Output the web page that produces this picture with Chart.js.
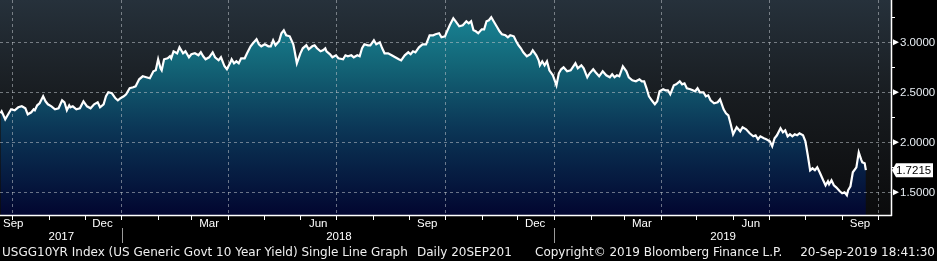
<!DOCTYPE html>
<html><head><meta charset="utf-8">
<script src="https://cdn.jsdelivr.net/npm/chart.js@4/dist/chart.umd.min.js"></script>
<style>html,body{margin:0;padding:0;background:#000;overflow:hidden}canvas{display:block}</style>
</head><body>
<canvas id="c" width="937" height="261"></canvas>
<script>
// ---- data (day offset from 2017-09-20, 10Y yield %) ----
const startISO = "2017-09-20";
const days = [0,1,4,7,9,12,15,18,21,23,26,28,29,31,33,36,38,40,43,46,49,52,54,56,58,59,61,64,67,70,73,76,79,82,84,87,89,91,94,97,99,101,104,106,109,112,114,117,120,123,126,129,131,133,135,136,138,141,143,144,146,149,151,154,156,159,161,164,167,169,171,173,176,179,181,184,186,189,191,194,195,197,199,201,203,206,208,211,213,216,218,220,223,226,228,230,232,235,237,239,241,244,247,248,250,253,255,258,260,263,265,267,270,272,274,275,278,280,283,285,289,291,293,296,298,301,303,305,307,310,312,315,317,320,322,324,327,330,333,336,338,341,344,346,348,350,353,356,359,362,365,367,370,372,375,376,379,382,384,387,390,393,395,397,399,401,403,406,408,410,412,414,416,419,421,423,426,428,430,433,435,437,439,441,444,447,449,452,454,455,457,459,461,463,466,469,471,473,475,478,481,485,487,490,492,495,497,500,502,505,508,511,514,516,518,520,522,525,528,530,533,536,539,541,543,545,547,550,552,554,556,559,561,563,565,568,570,573,575,577,579,582,584,586,588,590,593,595,597,599,602,605,607,610,612,614,616,618,621,624,626,629,632,635,637,639,641,644,646,649,651,653,655,658,660,662,664,666,668,670,672,674,677,679,681,683,685,687,689,691,694,696,698,699,701,703,705,708,710,712,714,715,717,719,722,724,726,727,729,730];
const yields = [2.29,2.31,2.23,2.29,2.33,2.32,2.35,2.36,2.34,2.28,2.30,2.33,2.32,2.37,2.39,2.46,2.41,2.38,2.36,2.33,2.34,2.42,2.40,2.32,2.37,2.35,2.36,2.33,2.34,2.41,2.36,2.34,2.38,2.40,2.35,2.38,2.46,2.50,2.49,2.44,2.42,2.44,2.46,2.48,2.54,2.55,2.56,2.63,2.66,2.65,2.64,2.71,2.72,2.83,2.74,2.72,2.83,2.84,2.86,2.84,2.91,2.89,2.95,2.89,2.91,2.85,2.88,2.89,2.87,2.90,2.86,2.83,2.85,2.90,2.85,2.82,2.85,2.76,2.73,2.80,2.83,2.79,2.81,2.79,2.84,2.84,2.89,2.96,2.99,3.03,2.98,2.96,2.98,2.96,2.96,3.02,2.97,3.01,3.09,3.12,3.07,3.06,2.98,2.92,2.79,2.89,2.94,2.97,2.93,2.96,2.97,2.94,2.91,2.92,2.94,2.91,2.88,2.85,2.87,2.84,2.83,2.87,2.86,2.87,2.85,2.87,2.86,2.94,2.98,2.97,2.97,3.02,2.98,3.00,2.94,2.89,2.89,2.87,2.85,2.83,2.82,2.87,2.90,2.88,2.91,2.90,2.95,2.98,2.98,3.07,3.07,3.08,3.09,3.05,3.06,3.09,3.17,3.24,3.21,3.16,3.17,3.21,3.19,3.21,3.12,3.11,3.09,3.13,3.13,3.21,3.22,3.25,3.21,3.15,3.11,3.08,3.07,3.05,3.07,3.06,3.01,2.97,2.94,2.90,2.86,2.88,2.92,2.87,2.82,2.77,2.81,2.77,2.81,2.72,2.67,2.57,2.69,2.73,2.75,2.71,2.72,2.79,2.74,2.77,2.74,2.65,2.69,2.73,2.70,2.66,2.71,2.67,2.65,2.68,2.65,2.67,2.66,2.76,2.71,2.65,2.62,2.61,2.63,2.61,2.61,2.54,2.46,2.41,2.38,2.41,2.51,2.53,2.52,2.52,2.48,2.57,2.58,2.61,2.58,2.59,2.54,2.53,2.52,2.51,2.54,2.50,2.50,2.46,2.47,2.42,2.39,2.40,2.43,2.33,2.29,2.27,2.18,2.08,2.15,2.11,2.15,2.13,2.09,2.06,2.07,2.03,2.06,2.04,2.03,2.01,1.96,2.04,2.07,2.14,2.10,2.12,2.06,2.08,2.06,2.08,2.07,2.09,2.07,2.01,1.87,1.72,1.74,1.72,1.75,1.70,1.62,1.57,1.61,1.58,1.62,1.57,1.55,1.51,1.49,1.50,1.47,1.52,1.56,1.70,1.75,1.90,1.83,1.80,1.79,1.7215];
const lastValueLabel = "1.7215";
const yTickValues = [1.5, 2.0, 2.5, 3.0];
const yMinorValues = [1.75, 2.25, 2.75, 3.25];
const monthNames = ["Jan","Feb","Mar","Apr","May","Jun","Jul","Aug","Sep","Oct","Nov","Dec"];
const labeledMonths = [8, 11, 2, 5]; // Sep, Dec, Mar, Jun
const footerParts = [
  "USGG10YR Index (US Generic Govt 10 Year Yield) Single Line Graph",
  "Daily 20SEP201",
  "Copyright\u00A9 2019 Bloomberg Finance L.P.",
  "20-Sep-2019 18:41:30"
];

// ---- helpers ----
const [sy, sm, sd] = startISO.split('-').map(Number);
const startMs = Date.UTC(sy, sm - 1, sd);
function dayOfYMD(y, m, d) { return (Date.UTC(y, m, d) - startMs) / 864e5; }
const points = days.map((d, i) => ({ x: d, y: yields[i] }));
const FONT = '"Liberation Sans", Arial, sans-serif';
const FOOTFONT = '"DejaVu Sans", Verdana, sans-serif';

const axisPlugin = {
  id: 'bbgAxes',
  beforeDraw(chart) {
    const ctx = chart.ctx, a = chart.chartArea;
    ctx.save();
    ctx.fillStyle = '#000';
    ctx.fillRect(0, 0, chart.width, chart.height);
    const g = ctx.createLinearGradient(0, a.top, 0, a.bottom);
    g.addColorStop(0, '#26313b');
    g.addColorStop(0.45, '#181c20');
    g.addColorStop(1, '#0b0b0c');
    ctx.fillStyle = g;
    ctx.fillRect(a.left, a.top, a.right - a.left, a.bottom - a.top);
    ctx.restore();
  },
  beforeDatasetsDraw(chart) {
    const ctx = chart.ctx, a = chart.chartArea, xs = chart.scales.x, ys = chart.scales.y;
    ctx.save();
    ctx.strokeStyle = 'rgba(190,195,200,0.55)';
    ctx.lineWidth = 1;
    ctx.setLineDash([3, 3]);
    yTickValues.forEach(v => {
      const y = Math.round(ys.getPixelForValue(v)) + 0.5;
      ctx.beginPath(); ctx.moveTo(a.left, y); ctx.lineTo(a.right, y); ctx.stroke();
    });
    for (let y = 2017; y <= 2019; y++) {
      for (let m = 0; m < 12; m++) {
        if (!labeledMonths.includes(m)) continue;
        const d = dayOfYMD(y, m + 1, 0);
        if (d < xs.min || d > xs.max) continue;
        const x = Math.round(xs.getPixelForValue(d)) + 0.5;
        ctx.beginPath(); ctx.moveTo(x, a.top); ctx.lineTo(x, a.bottom); ctx.stroke();
      }
    }
    ctx.restore();
  },
  afterDraw(chart) {
    const ctx = chart.ctx, a = chart.chartArea, xs = chart.scales.x, ys = chart.scales.y;
    ctx.save();
    ctx.strokeStyle = '#ffffff';
    ctx.lineWidth = 1.5;
    ctx.beginPath();
    ctx.moveTo(a.left, a.bottom + 0.5); ctx.lineTo(a.right + 1, a.bottom + 0.5);
    ctx.moveTo(a.right + 0.5, a.top); ctx.lineTo(a.right + 0.5, a.bottom + 1);
    ctx.stroke();
    ctx.lineWidth = 1;
    yMinorValues.forEach(v => {
      const y = Math.round(ys.getPixelForValue(v)) + 0.5;
      ctx.beginPath(); ctx.moveTo(a.right, y); ctx.lineTo(a.right + 4, y); ctx.stroke();
    });
    ctx.font = '11.5px ' + FONT;
    ctx.textBaseline = 'middle';
    ctx.textAlign = 'left';
    yTickValues.forEach(v => {
      const y = ys.getPixelForValue(v);
      ctx.fillStyle = '#ffffff';
      ctx.beginPath();
      ctx.moveTo(a.right + 2, y - 3); ctx.lineTo(a.right + 8, y); ctx.lineTo(a.right + 2, y + 3);
      ctx.closePath(); ctx.fill();
      ctx.fillStyle = '#e8eef4';
      ctx.fillText(v.toFixed(4), a.right + 9, y + 0.5);
    });
    const lv = yields[yields.length - 1];
    const ly = ys.getPixelForValue(lv);
    ctx.fillStyle = '#ffffff';
    ctx.beginPath();
    ctx.moveTo(a.right + 1, ly);
    ctx.lineTo(a.right + 5, ly - 7);
    ctx.lineTo(a.right + 42, ly - 7);
    ctx.lineTo(a.right + 42, ly + 7);
    ctx.lineTo(a.right + 5, ly + 7);
    ctx.closePath(); ctx.fill();
    ctx.fillStyle = '#000000';
    ctx.fillText(lastValueLabel, a.right + 5, ly + 0.5);

    ctx.strokeStyle = '#ffffff';
    ctx.fillStyle = '#ffffff';
    ctx.textAlign = 'center';
    ctx.font = '11.5px ' + FONT;
    for (let y = 2017; y <= 2019; y++) {
      for (let m = 0; m < 12; m++) {
        const dEnd = dayOfYMD(y, m + 1, 0);
        if (dEnd >= xs.min && dEnd <= xs.max) {
          const x = Math.round(xs.getPixelForValue(dEnd)) + 0.5;
          ctx.beginPath(); ctx.moveTo(x, a.bottom + 1); ctx.lineTo(x, a.bottom + 5); ctx.stroke();
        }
        if (labeledMonths.includes(m)) {
          const dMid = dayOfYMD(y, m, 15);
          const dStart = dayOfYMD(y, m, 1);
          if (dEnd < xs.min || dStart > xs.max) continue;
          let x = xs.getPixelForValue(dMid);
          const w = ctx.measureText(monthNames[m]).width;
          if (x - w / 2 < a.left + 3) x = a.left + 3 + w / 2;
          ctx.fillText(monthNames[m], x, a.bottom + 8.5);
        }
      }
    }
    ctx.strokeStyle = '#9a9a9a';
    for (let y = 2017; y <= 2019; y++) {
      const x0 = Math.max(xs.getPixelForValue(dayOfYMD(y, 0, 1)), a.left);
      const x1 = Math.min(xs.getPixelForValue(dayOfYMD(y + 1, 0, 1)), a.right);
      ctx.fillText(String(y), (x0 + x1) / 2, a.bottom + 21.5);
      if (y < 2019) {
        const xs1 = Math.round(x1) - 0.5;
        ctx.beginPath(); ctx.moveTo(xs1, a.bottom + 13); ctx.lineTo(xs1, a.bottom + 28); ctx.stroke();
      }
    }
    ctx.textAlign = 'left';
    ctx.font = '12px ' + FOOTFONT;
    ctx.fillStyle = '#f0f0f0';
    const fy = a.bottom + 38;
    ctx.fillText(footerParts[0], 2, fy);
    ctx.fillText(footerParts[1], 417, fy);
    ctx.fillText(footerParts[2], 535, fy);
    ctx.textAlign = 'right';
    ctx.fillText(footerParts[3], chart.width - 2, fy);
    ctx.restore();
  }
};

new Chart(document.getElementById('c'), {
  type: 'line',
  data: {
    datasets: [{
      data: points,
      borderColor: '#ffffff',
      borderWidth: 2.2,
      pointRadius: 0,
      tension: 0,
      fill: 'start',
      backgroundColor: (c) => {
        const a = c.chart.chartArea;
        if (!a) return '#10506a';
        const g = c.chart.ctx.createLinearGradient(0, a.top, 0, a.bottom);
        g.addColorStop(0, '#1a8c9c');
        g.addColorStop(0.3, '#136577');
        g.addColorStop(0.6, '#0b3656');
        g.addColorStop(1, '#020630');
        return g;
      }
    }]
  },
  options: {
    responsive: false,
    animation: false,
    devicePixelRatio: 1,
    layout: { padding: { left: 0, top: 0, right: 46, bottom: 46 } },
    scales: {
      x: { type: 'linear', min: -0.4, max: 751.2, display: false },
      y: { min: 1.273, max: 3.423, display: false }
    },
    plugins: {
      legend: { display: false },
      tooltip: { enabled: false },
      filler: { drawTime: 'beforeDatasetsDraw' }
    }
  },
  plugins: [axisPlugin]
});
</script>
</body></html>
